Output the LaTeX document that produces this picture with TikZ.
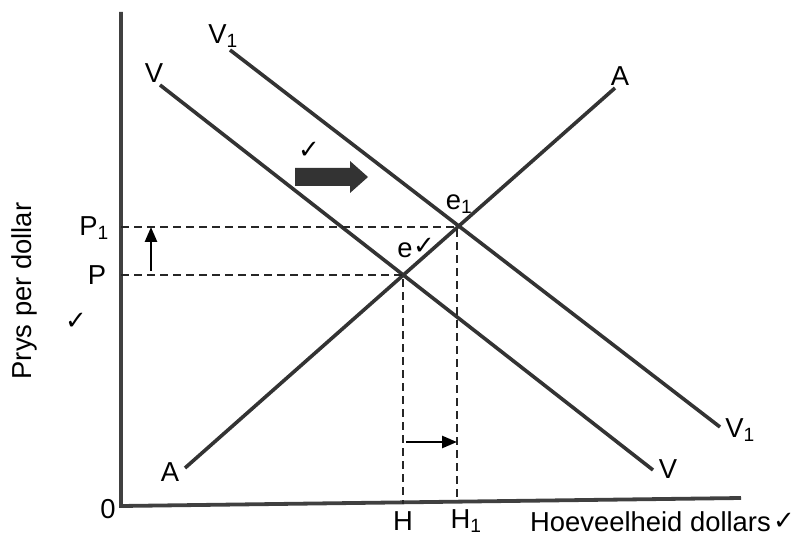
\documentclass[tikz,border=0pt]{standalone}
\usepackage{fontspec}
\setmainfont{Liberation Sans}
\newfontfamily\dvfont{DejaVu Sans}
\usetikzlibrary{arrows.meta}
\begin{document}
\begin{tikzpicture}[x=1bp,y=-1bp,
  curve/.style={line width=3.6bp, draw=black!80},
  axis/.style={line width=3.8bp, draw=black!75},
  guide/.style={line width=1.8bp, draw=black!85, dash pattern=on 8bp off 5bp},
  shiftarrow/.style={line width=2.6bp, draw=black, -{Triangle[length=15bp,width=12bp]}},
  lbl/.style={font=\fontsize{27.5}{32}\selectfont, inner sep=0pt},
  tick/.style={font=\dvfont\fontsize{26}{30}\selectfont, inner sep=0pt}]
\useasboundingbox (0,0) rectangle (798,536);
% axes
\coordinate (top) at (121,12);
\coordinate (O) at (121,506);
\coordinate (xend) at (741,498);
\draw[axis] (top) -- (O) -- (xend);
% equilibrium points
\coordinate (e) at (403,275);
\coordinate (e1) at (457,227);
% curves
\coordinate (Vs) at (160,85);
\coordinate (Ve) at (653,470);
\coordinate (V1s) at (230,50);
\coordinate (V1e) at (720,427);
\coordinate (As) at (185,468);
\coordinate (Ae) at (615,88);
\draw[curve] (Vs) -- (Ve);
\draw[curve] (V1s) -- (V1e);
\draw[curve] (As) -- (Ae);
% guides
\coordinate (P1y) at (121,227);
\coordinate (Py) at (121,275);
\coordinate (Hx) at (403,504);
\coordinate (H1x) at (457,501);
\draw[guide] (P1y) -- (e1) -- (H1x);
\draw[guide] (Py) -- (e) -- (Hx);
% shift arrows
\coordinate (upS) at (151,271);
\coordinate (upE) at (151,227);
\draw[shiftarrow] (upS) -- (upE);
\coordinate (rtS) at (406,442);
\coordinate (rtE) at (457,442);
\draw[shiftarrow] (rtS) -- (rtE);
% big arrow
\fill[black!80] (295,168) -- (350,168) -- (350,161) -- (368,177) -- (350,193) -- (350,186) -- (295,186) -- cycle;
% labels
\node[lbl] (lV1t) at (223,36) {V\textsubscript{1}};
\node[lbl] (lVt) at (154,73) {V};
\node[lbl] (lAt) at (620,76) {A};
\node[lbl] (lAb) at (170,472) {A};
\node[lbl] (lVb) at (668,469) {V};
\node[lbl] (lV1b) at (740,430) {V\textsubscript{1}};
\node[lbl] (le1) at (459,204) {e\textsubscript{1}};
\node[lbl] (le) at (405,250) {e};
\node[tick] (cke) at (424,246) {✓};
\node[tick] (ckarrow) at (309,150) {✓};
\node[lbl] (lP1) at (94,228) {P\textsubscript{1}};
\node[lbl] (lP) at (97,275) {P};
\node[lbl] (l0) at (108,509) {0};
\node[lbl] (lH) at (403,521) {H};
\node[lbl] (lH1) at (466,521) {H\textsubscript{1}};
\node[lbl, anchor=west] (lx) at (530,522) {Hoeveelheid dollars};
\node[tick] (ckx) at (784,521) {✓};
\node[lbl, rotate=90] (ly) at (24,291) {Prys per dollar};
\node[tick] (cky) at (76,321) {✓};
\end{tikzpicture}
\end{document}
